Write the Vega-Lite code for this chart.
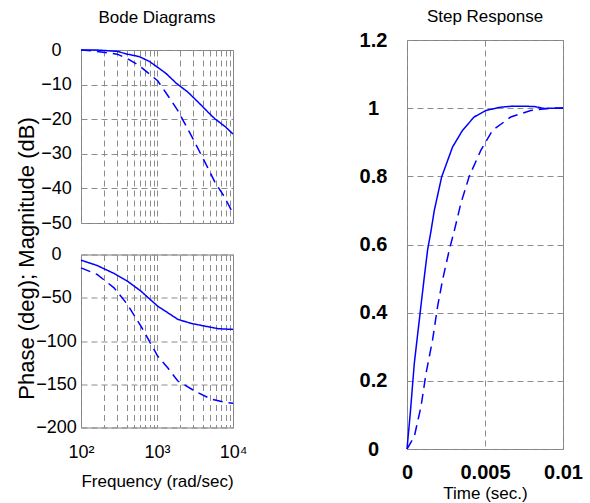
{
  "$schema": "https://vega.github.io/schema/vega-lite/v6.json",
  "padding": {"left": 14, "top": 7, "right": 5, "bottom": 0},
  "config": {
    "font": "Liberation Sans",
    "view": {"stroke": "#808080", "strokeWidth": 1},
    "axis": {"domain": false, "ticks": false, "tickSize": 0, "grid": true, "gridColor": "#8c8c8c", "gridDash": [6, 4], "gridWidth": 1, "labelColor": "#000000", "titleColor": "#000000", "labelFont": "Liberation Sans", "titleFont": "Liberation Sans", "titleFontWeight": "normal", "labelOverlap": false, "labelBound": false, "labelFlush": false},
    "title": {"fontSize": 17, "fontWeight": "normal", "color": "#000000", "font": "Liberation Sans"},
    "line": {"color": "#0000ff", "strokeWidth": 1.5}
  },
  "datasets": {
    "mag": [
      {"f": 100, "db": 0, "sys": "a"}, {"f": 163, "db": 0, "sys": "a"}, {"f": 300, "db": -0.4, "sys": "a"}, {"f": 408, "db": -1.2, "sys": "a"}, {"f": 583, "db": -1.9, "sys": "a"}, {"f": 793, "db": -3.3, "sys": "a"}, {"f": 1020, "db": -5.0, "sys": "a"}, {"f": 1320, "db": -6.8, "sys": "a"}, {"f": 1790, "db": -9.6, "sys": "a"}, {"f": 2560, "db": -12.2, "sys": "a"}, {"f": 3840, "db": -16.0, "sys": "a"}, {"f": 4710, "db": -18.0, "sys": "a"}, {"f": 5780, "db": -19.9, "sys": "a"}, {"f": 7850, "db": -22.1, "sys": "a"}, {"f": 10000, "db": -24.3, "sys": "a"},
      {"f": 100, "db": 0, "sys": "b"}, {"f": 163, "db": -0.4, "sys": "b"}, {"f": 300, "db": -1.2, "sys": "b"}, {"f": 408, "db": -2.5, "sys": "b"}, {"f": 583, "db": -4.5, "sys": "b"}, {"f": 1020, "db": -8.9, "sys": "b"}, {"f": 1400, "db": -13.3, "sys": "b"}, {"f": 1880, "db": -17.5, "sys": "b"}, {"f": 2980, "db": -25.7, "sys": "b"}, {"f": 4270, "db": -32.4, "sys": "b"}, {"f": 5780, "db": -38.2, "sys": "b"}, {"f": 7850, "db": -42.7, "sys": "b"}, {"f": 10000, "db": -47.3, "sys": "b"}
    ],
    "phase": [
      {"f": 100, "deg": -6.6, "sys": "a"}, {"f": 163, "deg": -12.7, "sys": "a"}, {"f": 272, "deg": -21.9, "sys": "a"}, {"f": 408, "deg": -30.8, "sys": "a"}, {"f": 614, "deg": -42.3, "sys": "a"}, {"f": 1020, "deg": -59.7, "sys": "a"}, {"f": 1390, "deg": -67.4, "sys": "a"}, {"f": 1880, "deg": -75.0, "sys": "a"}, {"f": 2830, "deg": -79.7, "sys": "a"}, {"f": 4270, "deg": -82.8, "sys": "a"}, {"f": 6400, "deg": -85.8, "sys": "a"}, {"f": 10000, "deg": -86.6, "sys": "a"},
      {"f": 100, "deg": -15.4, "sys": "b"}, {"f": 163, "deg": -23.1, "sys": "b"}, {"f": 272, "deg": -38.5, "sys": "b"}, {"f": 408, "deg": -57.7, "sys": "b"}, {"f": 614, "deg": -82.8, "sys": "b"}, {"f": 1020, "deg": -117.4, "sys": "b"}, {"f": 1400, "deg": -131.6, "sys": "b"}, {"f": 1880, "deg": -146.3, "sys": "b"}, {"f": 3140, "deg": -157.8, "sys": "b"}, {"f": 5210, "deg": -167.4, "sys": "b"}, {"f": 7500, "deg": -170.5, "sys": "b"}, {"f": 10000, "deg": -172.0, "sys": "b"}
    ],
    "step": [
      {"t": 0, "v": 0, "sys": "a"}, {"t": 0.00021, "v": 0.105, "sys": "a"}, {"t": 0.00047, "v": 0.252, "sys": "a"}, {"t": 0.00079, "v": 0.379, "sys": "a"}, {"t": 0.00111, "v": 0.505, "sys": "a"}, {"t": 0.00132, "v": 0.584, "sys": "a"}, {"t": 0.00154, "v": 0.64, "sys": "a"}, {"t": 0.00175, "v": 0.7, "sys": "a"}, {"t": 0.00222, "v": 0.798, "sys": "a"}, {"t": 0.00292, "v": 0.886, "sys": "a"}, {"t": 0.00356, "v": 0.935, "sys": "a"}, {"t": 0.0043, "v": 0.974, "sys": "a"}, {"t": 0.00505, "v": 0.993, "sys": "a"}, {"t": 0.006, "v": 1.003, "sys": "a"}, {"t": 0.0068, "v": 1.006, "sys": "a"}, {"t": 0.00815, "v": 1.005, "sys": "a"}, {"t": 0.0088, "v": 0.999, "sys": "a"}, {"t": 0.01, "v": 1.001, "sys": "a"},
      {"t": 0, "v": 0, "sys": "b"}, {"t": 0.00047, "v": 0.037, "sys": "b"}, {"t": 0.0009, "v": 0.125, "sys": "b"}, {"t": 0.00122, "v": 0.222, "sys": "b"}, {"t": 0.00164, "v": 0.32, "sys": "b"}, {"t": 0.00196, "v": 0.418, "sys": "b"}, {"t": 0.00228, "v": 0.496, "sys": "b"}, {"t": 0.00271, "v": 0.584, "sys": "b"}, {"t": 0.00303, "v": 0.64, "sys": "b"}, {"t": 0.00345, "v": 0.72, "sys": "b"}, {"t": 0.00399, "v": 0.8, "sys": "b"}, {"t": 0.00473, "v": 0.876, "sys": "b"}, {"t": 0.00548, "v": 0.935, "sys": "b"}, {"t": 0.00665, "v": 0.974, "sys": "b"}, {"t": 0.00793, "v": 0.993, "sys": "b"}, {"t": 0.009, "v": 0.999, "sys": "b"}, {"t": 0.01, "v": 1.0, "sys": "b"}
    ]
  },
  "spacing": 110,
  "hconcat": [
    {
      "vconcat": [
        {
          "width": 152,
          "height": 1,
          "title": {"text": "Bode Diagrams", "offset": 13},
          "view": {"stroke": null},
          "data": {"values": []},
          "mark": {"type": "rule"},
          "encoding": {}
        },
        {
          "vconcat": [
            {
              "width": 152,
              "height": 173,
              "data": {"name": "mag"},
              "mark": {"type": "line"},
              "encoding": {
                "x": {"field": "f", "type": "quantitative", "scale": {"type": "log", "domain": [100, 10000], "nice": false}, "axis": {"values": [100, 200, 300, 400, 500, 600, 700, 800, 900, 1000, 2000, 3000, 4000, 5000, 6000, 7000, 8000, 9000, 10000], "labels": false, "title": null}},
                "y": {"field": "db", "type": "quantitative", "scale": {"domain": [-50, 0], "nice": false}, "axis": {"values": [-50, -40, -30, -20, -10, 0], "labelAlign": "center", "labelBaseline": "middle", "labelPadding": 25, "labelFontSize": 18, "title": "Phase (deg); Magnitude (dB)", "titleFontSize": 22, "titleX": -55, "titleY": 208, "titleAlign": "center", "titleBaseline": "middle", "titleAngle": -90}},
                "strokeDash": {"field": "sys", "type": "nominal", "scale": {"domain": ["a", "b"], "range": [[1, 0], [10, 6]]}, "legend": null}
              }
            },
            {
              "width": 152,
              "height": 173,
              "data": {"name": "phase"},
              "mark": {"type": "line"},
              "encoding": {
                "x": {"field": "f", "type": "quantitative", "scale": {"type": "log", "domain": [100, 10000], "nice": false}, "axis": {"values": [100, 200, 300, 400, 500, 600, 700, 800, 900, 1000, 2000, 3000, 4000, 5000, 6000, 7000, 8000, 9000, 10000], "labelExpr": "datum.value == 100 ? '10²' : datum.value == 1000 ? '10³' : datum.value == 10000 ? '10⁴' : ''", "labelFontSize": 18, "labelPadding": 16, "title": "Frequency (rad/sec)", "titleFontSize": 17, "titlePadding": 12}},
                "y": {"field": "deg", "type": "quantitative", "scale": {"domain": [-200, 0], "nice": false}, "axis": {"values": [-200, -150, -100, -50, 0], "labelAlign": "center", "labelBaseline": "middle", "labelPadding": 25, "labelFontSize": 18, "title": null}},
                "strokeDash": {"field": "sys", "type": "nominal", "scale": {"domain": ["a", "b"], "range": [[1, 0], [10, 6]]}, "legend": null}
              }
            }
          ],
          "spacing": 31.5,
          "bounds": "flush"
        }
      ],
      "spacing": 9,
      "bounds": "flush"
    },
    {
      "width": 156,
      "height": 409,
      "title": {"text": "Step Response", "offset": 4},
      "data": {"name": "step"},
      "mark": {"type": "line"},
      "encoding": {
        "x": {"field": "t", "type": "quantitative", "scale": {"domain": [0, 0.01], "nice": false}, "axis": {"values": [0, 0.005, 0.01], "format": "~g", "labelFontSize": 20, "labelFontWeight": "bold", "labelPadding": 13, "title": "Time (sec.)", "titleFontSize": 17, "titlePadding": 3}},
        "y": {"field": "v", "type": "quantitative", "scale": {"domain": [0, 1.2], "nice": false}, "axis": {"values": [0, 0.2, 0.4, 0.6, 0.8, 1, 1.2], "format": "~g", "labelAlign": "center", "labelBaseline": "middle", "labelPadding": 34, "labelFontSize": 20, "labelFontWeight": "bold", "title": null}},
        "strokeDash": {"field": "sys", "type": "nominal", "scale": {"domain": ["a", "b"], "range": [[1, 0], [9, 5]]}, "legend": null}
      }
    }
  ]
}
